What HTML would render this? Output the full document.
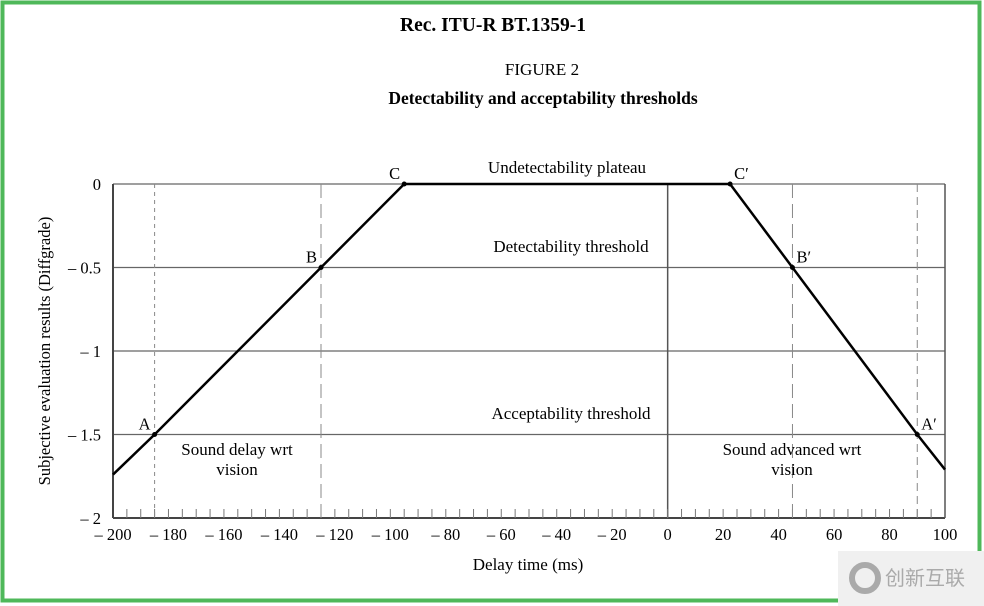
<!DOCTYPE html>
<html><head><meta charset="utf-8"><style>
body{margin:0;background:#fff;}
svg{display:block;font-family:"Liberation Serif",serif;}
</style></head><body>
<svg width="984" height="606" viewBox="0 0 984 606">
<rect x="2.5" y="2.5" width="977" height="598" fill="none" stroke="#4fb85a" stroke-width="4"/>
<text x="493" y="31" text-anchor="middle" font-size="19.5" font-weight="bold">Rec. ITU-R BT.1359-1</text>
<text x="542" y="75" text-anchor="middle" font-size="17">FIGURE 2</text>
<text x="543" y="104" text-anchor="middle" font-size="17.5" font-weight="bold">Detectability and acceptability thresholds</text>
<g id="plot"></g>
<text transform="translate(50,351) rotate(-90)" text-anchor="middle" font-size="16.5">Subjective evaluation results (Diffgrade)</text>
<text x="528" y="570" text-anchor="middle" font-size="17">Delay time (ms)</text>
<text x="237" y="455" text-anchor="middle" font-size="17">Sound delay wrt</text>
<text x="237" y="475" text-anchor="middle" font-size="17">vision</text>
<text x="792" y="455" text-anchor="middle" font-size="17">Sound advanced wrt</text>
<text x="792" y="475" text-anchor="middle" font-size="17">vision</text>
<text x="567" y="173" text-anchor="middle" font-size="17">Undetectability plateau</text>
<text x="571" y="252" text-anchor="middle" font-size="17">Detectability threshold</text>
<text x="571" y="419" text-anchor="middle" font-size="17">Acceptability threshold</text>
<g>
<rect x="838" y="551" width="146" height="55" fill="#f0f0f0"/>
<circle cx="865" cy="578" r="13" fill="none" stroke="#aaa" stroke-width="6"/>
<text x="885" y="585" font-family="'Noto Sans CJK SC',sans-serif" font-size="20" fill="#aaa">创新互联</text>
</g>
</svg>
<script>
const xTicks=[-200,-180,-160,-140,-120,-100,-80,-60,-40,-20,0,20,40,60,80,100];
const yTicks=[0,-0.5,-1,-1.5,-2];
const yTickLabels=['0','– 0.5','– 1','– 1.5','– 2'];
const curveX=[-200,-185,-125,-95,22.5,45,90,100];
const curveY=[-1.74,-1.5,-0.5,0,0,-0.5,-1.5,-1.71];
const pointNames=['A','B','C','C′','B′','A′'];
const pointX=[-185,-125,-95,22.5,45,90];
const pointY=[-1.5,-0.5,0,0,-0.5,-1.5];
const NS='http://www.w3.org/2000/svg';
const X=v=>113+(v+200)*832/300;
const Y=v=>184-v*167;
const g=document.getElementById('plot');
function mk(t,a){const e=document.createElementNS(NS,t);for(const k in a)e.setAttribute(k,a[k]);g.appendChild(e);return e;}
let e;
yTicks.forEach((v,i)=>{
 e=mk('line',{x1:113,x2:945,y1:Y(v),y2:Y(v),stroke:v===-2?'#444':'#666','stroke-width':v===-2?2:1.2});
 
 
 e=mk('text',{x:101,y:Y(v)+6,'text-anchor':'end','font-size':16.5});e.textContent=yTickLabels[i];
 
 
});
e=mk('line',{x1:113,x2:113,y1:184,y2:518,stroke:'#444','stroke-width':2});


e=mk('line',{x1:945,x2:945,y1:184,y2:518,stroke:'#555','stroke-width':1.5});


e=mk('line',{x1:X(0),x2:X(0),y1:184,y2:518,stroke:'#555','stroke-width':1.5});


for(let v=-195;v<100;v+=5){
 e=mk('line',{x1:X(v),x2:X(v),y1:518,y2:509,stroke:'#777','stroke-width':1});
 
 
}
xTicks.forEach(v=>{
 e=mk('text',{x:X(v),y:540,'text-anchor':'middle','font-size':16.5});e.textContent=v<0?'– '+(-v):String(v);
 
 
});
[[-185,'4,4'],[-125,'14,6'],[45,'14,6'],[90,'8,5']].forEach(d=>{
 e=mk('line',{x1:X(d[0]),x2:X(d[0]),y1:184,y2:518,stroke:'#888','stroke-width':1,'stroke-dasharray':d[1]});
 
 
});
e=mk('polyline',{points:curveX.map((v,i)=>X(v)+','+Y(curveY[i])).join(' '),fill:'none',stroke:'#000','stroke-width':2.5});


pointX.forEach((v,i)=>{
 e=mk('circle',{cx:X(v),cy:Y(pointY[i]),r:2.5,fill:'#000'});
 
 
 const left=v<0&&i<3;
 e=mk('text',{x:left?X(v)-4:X(v)+4,y:Y(pointY[i])-5,'text-anchor':left?'end':'start','font-size':16.5});e.textContent=pointNames[i];
 
 
});
</script>
</body></html>
